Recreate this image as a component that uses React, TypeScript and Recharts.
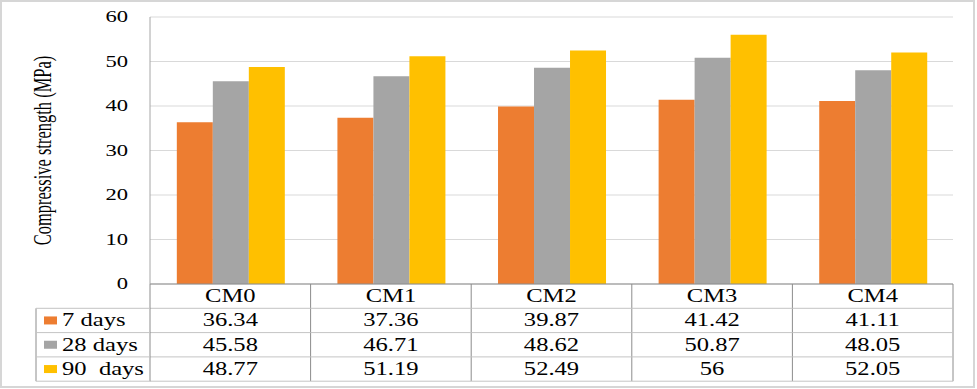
import React from 'react';
import { BarChart, Bar, XAxis, YAxis, CartesianGrid, Label } from 'recharts';

const categories = ['CM0', 'CM1', 'CM2', 'CM3', 'CM4'];
const days7 = [36.34, 37.36, 39.87, 41.42, 41.11];
const days28 = [45.58, 46.71, 48.62, 50.87, 48.05];
const days90 = [48.77, 51.19, 52.49, 56, 52.05];
const seriesLabels = ['7 days', '28 days', '90  days'];
const seriesKeys = ['d7', 'd28', 'd90'];
const seriesColors = ['#ED7D31', '#A5A5A5', '#FFC000'];
const yTicks = [0, 10, 20, 30, 40, 50, 60];

const data = categories.map((c, i) => ({ name: c, d7: days7[i], d28: days28[i], d90: days90[i] }));
const seriesValues = [days7, days28, days90];

const W = 977;
const H = 389;
const M = { top: 17, right: 24, bottom: 0, left: 0 };
const Y_W = 150;
const X_H = 105;
const PLOT_W = W - M.left - M.right - Y_W;
const ROW_H = 24.3;
const LEGEND_W = 114;
const FONT = 'Liberation Serif';
const SX = 1.33;
const V_LINE = '#8c8c8c';
const H_LINE = '#c4c4c4';

const fmt = (v: number) => String(v);

const StretchText = ({ x, y, anchor, size, children }: any) => (
  <text
    transform={`translate(${x},${y}) scale(${SX},1)`}
    x={0}
    y={0}
    textAnchor={anchor}
    fill="#000"
    fontFamily={FONT}
    fontSize={size}
    style={{ whiteSpace: 'pre', fontFamily: FONT, fontSize: size }}
  >
    {children}
  </text>
);

const TableTick = (props: any) => {
  const { x, y, payload, index } = props;
  const bw = PLOT_W / categories.length;
  const x0 = x - bw / 2;
  const x1 = x + bw / 2;
  const bottom = y + ROW_H * 4;
  const els: any[] = [];
  els.push(<line key="vr" x1={x1} y1={y} x2={x1} y2={bottom} stroke={V_LINE} strokeWidth={1} />);
  for (let r = 1; r <= 4; r++) {
    els.push(<line key={'h' + r} x1={x0} y1={y + ROW_H * r} x2={x1} y2={y + ROW_H * r} stroke={H_LINE} strokeWidth={1} />);
  }
  els.push(
    <StretchText key="hd" x={x} y={y + ROW_H / 2 + 6} anchor="middle" size={18.5}>
      {payload.value}
    </StretchText>
  );
  seriesValues.forEach((vals, s) => {
    els.push(
      <StretchText key={'v' + s} x={x} y={y + ROW_H * (s + 1) + ROW_H / 2 + 6} anchor="middle" size={18.5}>
        {fmt(vals[index])}
      </StretchText>
    );
  });
  if (index === 0) {
    const lx = x0 - LEGEND_W;
    els.push(<line key="vl0" x1={x0} y1={y} x2={x0} y2={bottom} stroke={V_LINE} strokeWidth={1} />);
    els.push(<line key="vl1" x1={lx} y1={y + ROW_H} x2={lx} y2={bottom} stroke={V_LINE} strokeWidth={1} />);
    for (let r = 1; r <= 4; r++) {
      els.push(<line key={'lh' + r} x1={lx} y1={y + ROW_H * r} x2={x0} y2={y + ROW_H * r} stroke={H_LINE} strokeWidth={1} />);
    }
    seriesLabels.forEach((lab, s) => {
      const cy = y + ROW_H * (s + 1) + ROW_H / 2;
      els.push(<rect key={'m' + s} x={lx + 8} y={cy - 4} width={13} height={8} fill={seriesColors[s]} />);
      els.push(
        <StretchText key={'l' + s} x={lx + 26} y={cy + 6} anchor="start" size={18.5}>
          {lab}
        </StretchText>
      );
    });
  }
  return <g>{els}</g>;
};

const YTick = (props: any) => {
  const { x, y, payload } = props;
  return (
    <StretchText x={x} y={y + 5} anchor="end" size={17}>
      {payload.value}
    </StretchText>
  );
};

const YLabel = (props: any) => {
  const vb = props.viewBox || { x: 0, y: M.top, width: Y_W, height: 267 };
  const cx = vb.x + 42.5;
  const cy = vb.y + vb.height / 2;
  return (
    <text
      transform={`translate(${cx},${cy}) scale(1.5,1) rotate(-90)`}
      x={0}
      y={0}
      textAnchor="middle"
      dominantBaseline="central"
      fill="#000"
      fontFamily={FONT}
      fontSize={16.5}
      style={{ fontFamily: FONT, fontSize: 16.5 }}
    >
      Compressive strength (MPa)
    </text>
  );
};

export default function App() {
  return (
    <div style={{ position: 'absolute', left: 0, top: 0, width: W, height: H, background: '#fff', fontFamily: FONT }}>
      <BarChart width={W} height={H} data={data} margin={M} barCategoryGap="16.7%" barGap={0} style={{ fontFamily: FONT }}>
        <CartesianGrid vertical={false} stroke="#d9d9d9" strokeWidth={1} />
        <XAxis
          dataKey="name"
          height={X_H}
          interval={0}
          tickLine={false}
          tickSize={0}
          tickMargin={0}
          axisLine={{ stroke: V_LINE, strokeWidth: 1 }}
          tick={<TableTick />}
        />
        <YAxis
          width={Y_W}
          domain={[0, 60]}
          ticks={yTicks}
          tickLine={false}
          tickSize={0}
          tickMargin={22}
          axisLine={{ stroke: '#a6a6a6', strokeWidth: 1 }}
          tick={<YTick />}
        >
          <Label content={<YLabel />} />
        </YAxis>
        {seriesKeys.map((k, i) => (
          <Bar key={k} dataKey={k} name={seriesLabels[i]} fill={seriesColors[i]} isAnimationActive={false} />
        ))}
      </BarChart>
      <div
        style={{
          position: 'absolute',
          left: 0,
          top: 0,
          width: W - 2,
          height: H - 1,
          boxSizing: 'border-box',
          border: '2px solid #d6d6d6',
          pointerEvents: 'none',
        }}
      />
    </div>
  );
}
